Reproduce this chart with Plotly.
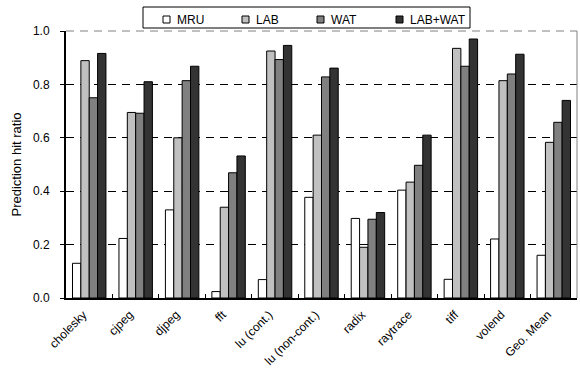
import plotly.graph_objects as go

categories = ["cholesky", "cjpeg", "djpeg", "fft", "lu (cont.)", "lu (non-cont.)",
              "radix", "raytrace", "tiff", "volend", "Geo. Mean"]
mru = [0.13, 0.223, 0.330, 0.024, 0.069, 0.377, 0.298, 0.404, 0.070, 0.221, 0.160]
lab = [0.889, 0.695, 0.600, 0.340, 0.925, 0.610, 0.190, 0.434, 0.935, 0.814, 0.583]
wat = [0.750, 0.692, 0.814, 0.469, 0.893, 0.828, 0.295, 0.497, 0.868, 0.839, 0.658]
labwat = [0.916, 0.810, 0.868, 0.532, 0.946, 0.861, 0.320, 0.610, 0.970, 0.913, 0.740]

series_names = ["MRU", "LAB", "WAT", "LAB+WAT"]
series_vals = [mru, lab, wat, labwat]
series_colors = ["#ffffff", "#c0c0c0", "#808080", "#333333"]

W, H = 580, 372
ML, MR, MT, MB = 66, 3, 31, 74
PW, PH = W - ML - MR, H - MT - MB


def px2x(px):
    return (px - ML) / PW


def px2y(py):
    return (H - MB - py) / PH


fig = go.Figure()
for name, vals, col in zip(series_names, series_vals, series_colors):
    fig.add_trace(go.Bar(x=categories, y=vals, name=name, showlegend=False,
                         marker=dict(color=col, line=dict(color="#000000", width=1))))

fig.update_layout(
    width=W, height=H,
    margin=dict(l=ML, r=MR, t=MT, b=MB, autoexpand=False),
    paper_bgcolor="white", plot_bgcolor="white",
    font=dict(family="Liberation Sans, Arial, sans-serif", size=12, color="black"),
    barmode="group", bargap=0.28, bargroupgap=0,
    xaxis=dict(type="category", showline=True, linecolor="black", linewidth=2,
               ticks="inside", tickson="boundaries", ticklen=4, tickcolor="black",
               tickangle=-45, showgrid=False, mirror=False, tickfont=dict(size=12),
               ticklabelstandoff=3, ticklabelshift=-6),
    yaxis=dict(range=[0, 1.0], dtick=0.2, tickformat=".1f", showline=True,
               linecolor="black", linewidth=2, ticks="outside", ticklen=4,
               tickcolor="black", showgrid=True, gridcolor="black", gridwidth=1,
               griddash="8px,6px", zeroline=False, ticklabelstandoff=8,
               title=dict(text="Prediction hit ratio", standoff=8, font=dict(size=13))),
)
# frame on right/top
fig.add_shape(type="line", xref="paper", yref="paper", x0=1, x1=1, y0=0, y1=1,
              line=dict(color="#808080", width=1))
fig.add_shape(type="line", xref="paper", yref="paper", x0=0, x1=1, y0=1, y1=1,
              line=dict(color="#808080", width=1, dash="8px,6px"))

# custom legend
fig.add_shape(type="rect", xref="paper", yref="paper",
              x0=px2x(143), x1=px2x(470), y0=px2y(28), y1=px2y(7),
              line=dict(color="black", width=1), fillcolor="white")
legend_x = [163, 242, 317, 396]
for name, col, lx in zip(series_names, series_colors, legend_x):
    fig.add_shape(type="rect", xref="paper", yref="paper",
                  x0=px2x(lx), x1=px2x(lx + 7), y0=px2y(23), y1=px2y(16),
                  line=dict(color="black", width=1), fillcolor=col)
    fig.add_annotation(x=px2x(lx + 12), y=px2y(19.5), xref="paper", yref="paper",
                       text=name, showarrow=False, xanchor="left", yanchor="middle",
                       font=dict(size=12))

fig.write_html("out.html")
